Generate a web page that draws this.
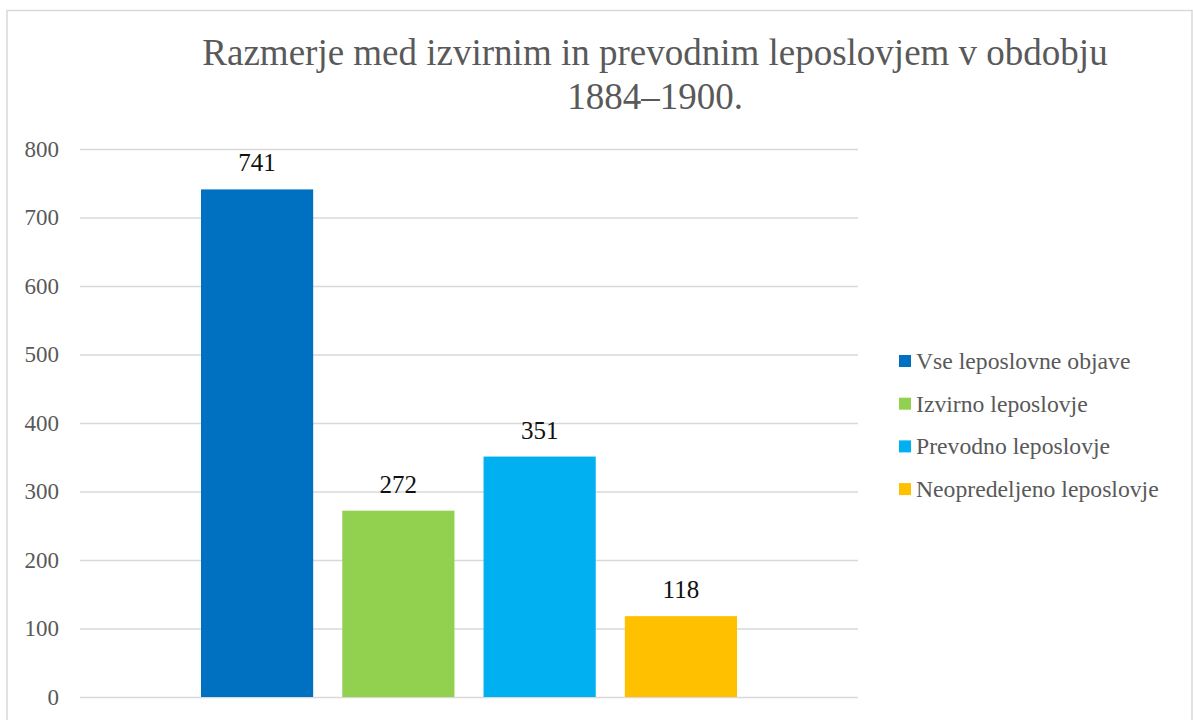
<!DOCTYPE html>
<html>
<head>
<meta charset="utf-8">
<script src="https://cdn.jsdelivr.net/npm/d3@7"></script>
<style>
  body { margin: 0; background: #fff; }
</style>
</head>
<body>
<div class="chart"></div>
<script>
const width = 1193
const height = 720
const serif = '"Liberation Serif", "Times New Roman", serif'

// Data
const seriesNames = ['Vse leposlovne objave', 'Izvirno leposlovje', 'Prevodno leposlovje', 'Neopredeljeno leposlovje']
const seriesValues = [741, 272, 351, 118]
const seriesColors = ['#0070c0', '#92d050', '#00b0f0', '#ffc000']
const yTicks = [0, 100, 200, 300, 400, 500, 600, 700, 800]
const titleLines = ['Razmerje med izvirnim in prevodnim leposlovjem v obdobju', '1884–1900.']

const plot = { left: 80, right: 858, top: 149, bottom: 697 }

const svg = d3
  .select('.chart')
  .append('svg')
  .attr('width', width)
  .attr('height', height)
  .style('font-family', serif)

// outer border of the chart area
svg
  .append('rect')
  .attr('x', 7)
  .attr('y', 10.5)
  .attr('width', 1185)
  .attr('height', 740)
  .attr('fill', 'none')
  .attr('stroke', '#d9d9d9')
  .attr('stroke-width', 1.5)

// Title
svg
  .append('text')
  .attr('x', 655)
  .attr('y', 65)
  .attr('text-anchor', 'middle')
  .attr('fill', '#595959')
  .style('font-family', serif)
  .style('font-size', '37px')
  .selectAll('tspan')
  .data(titleLines)
  .enter()
  .append('tspan')
  .attr('x', 655)
  .attr('dy', (d, i) => (i === 0 ? 0 : 44))
  .text(d => d)

// Scales
const yScale = d3
  .scaleLinear()
  .domain([0, 800])
  .range([plot.bottom, plot.top])

const x0 = d3
  .scaleBand()
  .domain(['grp'])
  .range([plot.left, plot.right])
  .paddingOuter(0.2257)

const x1 = d3
  .scaleBand()
  .domain(seriesNames)
  .range([0, x0.bandwidth()])
  .paddingInner(0.206)

// Gridlines + y labels
const yAxis = d3
  .axisLeft(yScale)
  .tickValues(yTicks)
  .tickSize(-(plot.right - plot.left))
  .tickPadding(21)

const yg = svg
  .append('g')
  .attr('transform', 'translate(' + plot.left + ', 0)')
  .call(yAxis)

yg.select('.domain').remove()
yg.selectAll('.tick line').attr('stroke', '#d9d9d9').attr('stroke-width', 1.5)
yg.selectAll('.tick text')
  .attr('fill', '#595959')
  .style('font-size', '23px')
  .style('font-family', serif)

// Bars
const barG = svg.append('g').attr('transform', 'translate(' + x0('grp') + ', 0)')

barG
  .selectAll('rect')
  .data(seriesNames)
  .enter()
  .append('rect')
  .attr('x', d => x1(d))
  .attr('y', (d, i) => yScale(seriesValues[i]))
  .attr('width', x1.bandwidth())
  .attr('height', (d, i) => yScale(0) - yScale(seriesValues[i]))
  .attr('fill', (d, i) => seriesColors[i])

// value labels
barG
  .selectAll('.val')
  .data(seriesNames)
  .enter()
  .append('text')
  .attr('class', 'val')
  .attr('x', d => x1(d) + x1.bandwidth() / 2)
  .attr('y', (d, i) => yScale(seriesValues[i]) - 18)
  .attr('text-anchor', 'middle')
  .attr('fill', '#111')
  .style('font-family', serif)
  .style('font-size', '25px')
  .text((d, i) => seriesValues[i])

// Legend
const legend = svg.append('g').attr('transform', 'translate(899, 361)')
const row = legend
  .selectAll('g')
  .data(seriesNames)
  .enter()
  .append('g')
  .attr('transform', (d, i) => 'translate(0, ' + i * 42.7 + ')')

row
  .append('rect')
  .attr('x', 0)
  .attr('y', -6)
  .attr('width', 12)
  .attr('height', 12)
  .attr('fill', (d, i) => seriesColors[i])

row
  .append('text')
  .attr('x', 17)
  .attr('y', 8)
  .attr('fill', '#595959')
  .style('font-family', serif)
  .style('font-size', '23.7px')
  .text(d => d)
</script>
</body>
</html>
